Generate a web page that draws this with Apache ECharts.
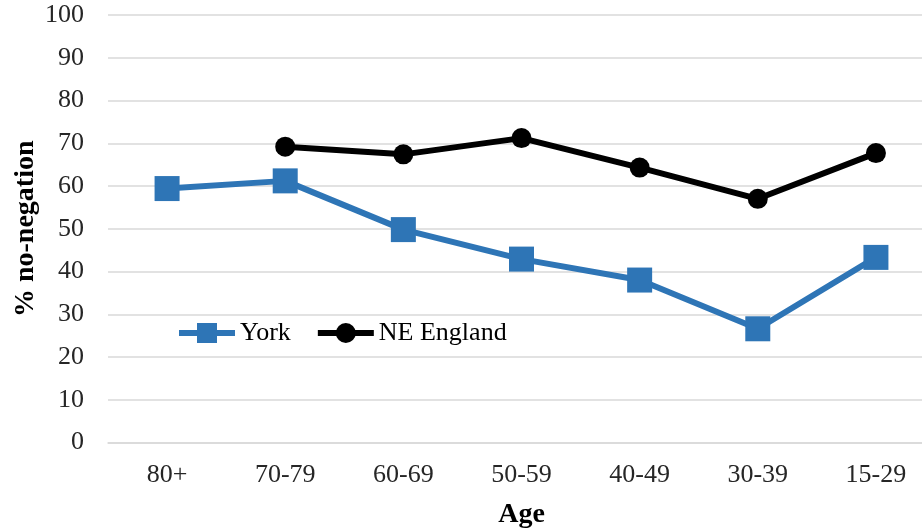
<!DOCTYPE html>
<html><head><meta charset="utf-8">
<script src="https://cdn.jsdelivr.net/npm/echarts@6/dist/echarts.min.js"></script>
<style>html,body{margin:0;padding:0;background:#fff;overflow:hidden}#c{width:922px;height:529px}</style>
</head><body><div id="c"></div>
<script>
const categories = ['80+', '70-79', '60-69', '50-59', '40-49', '30-39', '15-29'];
const york = [59.4, 61.2, 49.8, 42.9, 38.0, 26.6, 43.3];
const neEngland = [null, 69.2, 67.4, 71.2, 64.3, 57.0, 67.7];
const yTicks = [0, 10, 20, 30, 40, 50, 60, 70, 80, 90, 100];

const font = 'Liberation Serif, Times New Roman, serif';
const chart = echarts.init(document.getElementById('c'));
chart.setOption({
  animation: false,
  backgroundColor: '#fff',
  textStyle: { fontFamily: font },
  grid: { left: 108, top: 15, width: 827, height: 427.5, containLabel: false, outerBoundsMode: 'none' },
  legend: {
    left: 176, top: 320, padding: 0,
    itemWidth: 56, itemHeight: 25, itemGap: 24,
    lineStyle: { width: 6 },
    textStyle: { fontFamily: font, fontSize: 26, color: '#000' },
    data: ['York', 'NE England']
  },
  xAxis: {
    type: 'category', data: categories, boundaryGap: true,
    axisLine: { lineStyle: { color: '#d9d9d9', width: 1.5 } },
    axisTick: { show: false },
    axisLabel: { fontFamily: font, fontSize: 26, color: '#262626', margin: 20 },
    name: 'Age', nameLocation: 'middle', nameGap: 58, nameMoveOverlap: false,
    nameTextStyle: { fontFamily: font, fontSize: 28, fontWeight: 'bold', color: '#000' }
  },
  yAxis: {
    type: 'value', min: yTicks[0], max: yTicks[yTicks.length - 1], interval: 10,
    axisLine: { show: false }, axisTick: { show: false },
    splitLine: { lineStyle: { color: '#d9d9d9', width: 1.5 } },
    axisLabel: { fontFamily: font, fontSize: 26, color: '#262626', margin: 24 },
    name: '% no-negation', nameLocation: 'middle', nameGap: 68, nameRotate: 90, nameMoveOverlap: false,
    nameTextStyle: { fontFamily: font, fontSize: 28, fontWeight: 'bold', color: '#000' }
  },
  series: [
    {
      name: 'York', type: 'line', data: york,
      symbol: 'rect', symbolSize: 25,
      lineStyle: { color: '#2E75B6', width: 6 },
      itemStyle: { color: '#2E75B6' }
    },
    {
      name: 'NE England', type: 'line', data: neEngland,
      symbol: 'circle', symbolSize: 20,
      lineStyle: { color: '#000', width: 6 },
      itemStyle: { color: '#000' }
    }
  ]
});
</script></body></html>
